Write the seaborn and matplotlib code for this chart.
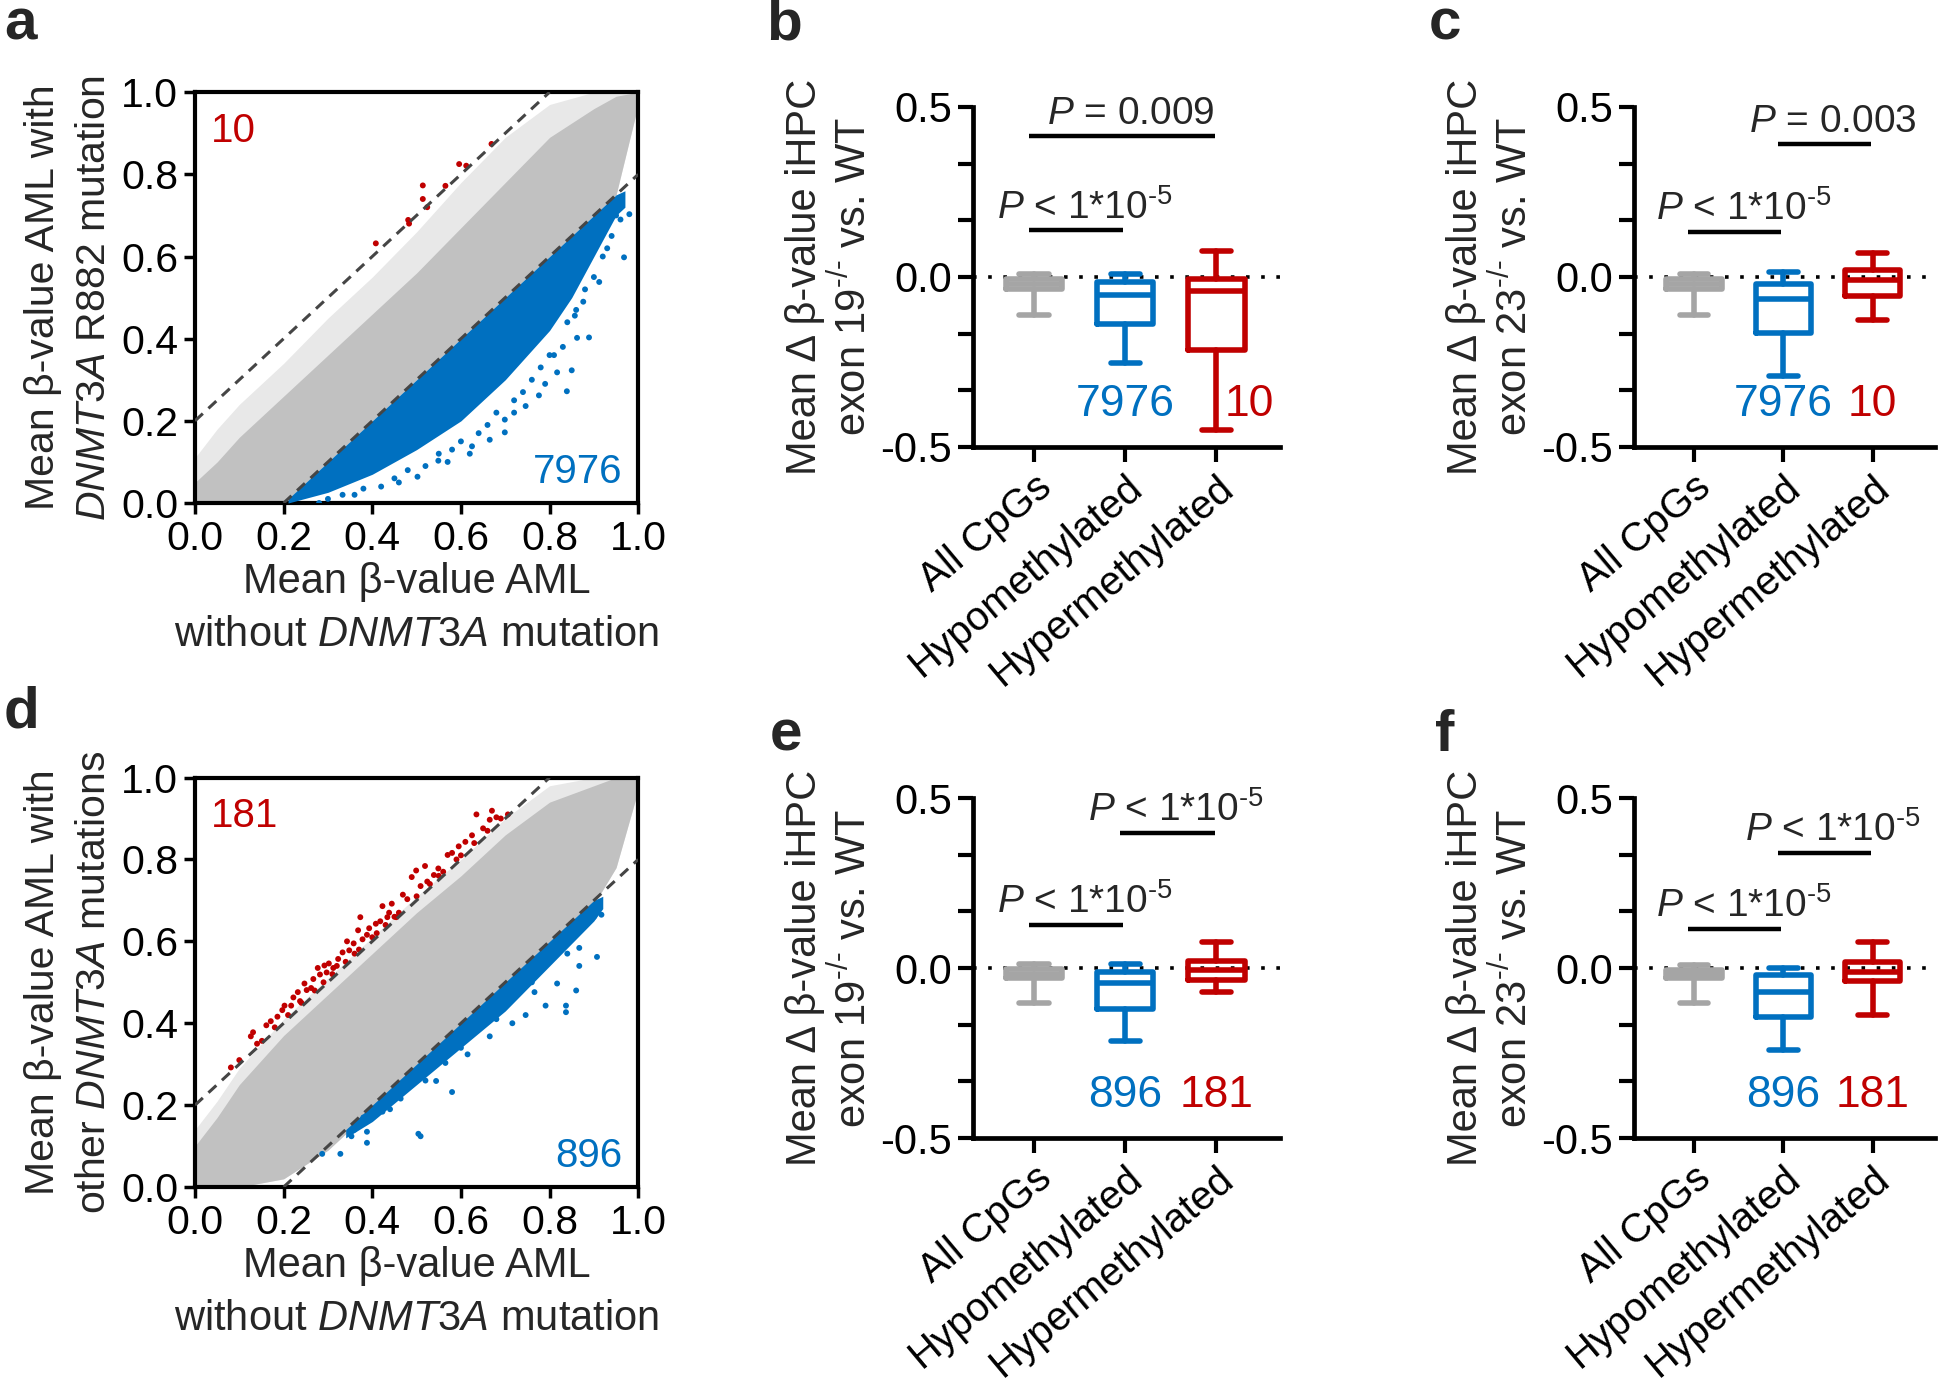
import matplotlib
matplotlib.use("Agg")
import matplotlib.pyplot as plt
import pandas as pd
import seaborn as sns


# ---- scatter panels (a, d): envelopes of the dense CpG cloud ----
CUTOFF = 0.2
cloud_x = [0.0, 0.05, 0.1, 0.2, 0.3, 0.4, 0.5, 0.6, 0.7, 0.8, 0.9, 0.95, 1.0]

a_gray_low = [0.0, 0.0, 0.0, 0.0, 0.10, 0.20, 0.30, 0.40, 0.50, 0.60, 0.70, 0.75, 0.97]
a_gray_core = [0.05, 0.10, 0.16, 0.26, 0.36, 0.46, 0.56, 0.67, 0.78, 0.89, 0.96, 0.99, 1.0]
a_gray_sparse = [0.11, 0.18, 0.24, 0.34, 0.45, 0.55, 0.66, 0.78, 0.89, 0.97, 1.0, 1.0, 1.0]

d_gray_low = [0.0, 0.0, 0.0, 0.02, 0.09, 0.19, 0.29, 0.39, 0.49, 0.59, 0.69, 0.78, 0.97]
d_gray_core = [0.10, 0.17, 0.25, 0.37, 0.47, 0.57, 0.67, 0.76, 0.86, 0.94, 0.98, 1.0, 1.0]
d_gray_sparse = [0.14, 0.21, 0.29, 0.41, 0.51, 0.61, 0.71, 0.80, 0.90, 0.98, 1.0, 1.0, 1.0]

# dense hypomethylated band (blue)
a_blue_x = [0.21, 0.3, 0.4, 0.5, 0.6, 0.7, 0.8, 0.85, 0.9, 0.95, 0.97]
a_blue_up = [0.01, 0.10, 0.20, 0.30, 0.40, 0.50, 0.60, 0.65, 0.70, 0.75, 0.76]
a_blue_low = [0.0, 0.026, 0.07, 0.13, 0.20, 0.30, 0.42, 0.50, 0.60, 0.70, 0.72]

d_blue_x = [0.34, 0.4, 0.5, 0.6, 0.7, 0.8, 0.9, 0.92]
d_blue_up = [0.14, 0.20, 0.30, 0.40, 0.50, 0.60, 0.70, 0.71]
d_blue_low = [0.12, 0.16, 0.25, 0.34, 0.43, 0.54, 0.65, 0.68]

# individual points outside the dense band
a_blue_px = [0.699, 0.699, 0.839, 0.862, 0.889, 0.968, 0.980, 0.502, 0.817, 0.850,
             0.776, 0.876, 0.912, 0.857, 0.549, 0.625, 0.333, 0.746, 0.665, 0.45,
             0.58, 0.72, 0.80, 0.93, 0.95, 0.28, 0.30, 0.36, 0.38, 0.42,
             0.46, 0.48, 0.52, 0.55, 0.57, 0.60, 0.62, 0.64, 0.66, 0.68,
             0.72, 0.74, 0.76, 0.78, 0.79, 0.81, 0.83, 0.84, 0.86, 0.88,
             0.90, 0.92, 0.94, 0.96]
a_blue_py = [0.203, 0.172, 0.272, 0.402, 0.403, 0.598, 0.703, 0.064, 0.318, 0.323,
             0.262, 0.490, 0.538, 0.456, 0.103, 0.138, 0.020, 0.236, 0.154, 0.06,
             0.13, 0.25, 0.36, 0.62, 0.70, 0.0, 0.01, 0.02, 0.035, 0.04,
             0.05, 0.08, 0.09, 0.12, 0.10, 0.15, 0.12, 0.17, 0.19, 0.22,
             0.22, 0.27, 0.30, 0.33, 0.29, 0.36, 0.38, 0.44, 0.47, 0.52,
             0.55, 0.60, 0.65, 0.69]

a_red_x = [0.408, 0.481, 0.483, 0.514, 0.524, 0.514, 0.565, 0.596, 0.612, 0.669]
a_red_y = [0.632, 0.689, 0.680, 0.740, 0.720, 0.773, 0.772, 0.825, 0.821, 0.874]

d_blue_px = [0.287, 0.328, 0.353, 0.388, 0.388, 0.504, 0.509, 0.580, 0.746, 0.791,
             0.837, 0.860, 0.837, 0.907, 0.917, 0.716, 0.665, 0.615, 0.544, 0.464,
             0.423, 0.867, 0.817, 0.766, 0.685, 0.565, 0.766, 0.867, 0.36, 0.45,
             0.38, 0.42, 0.46, 0.50, 0.54, 0.58, 0.62, 0.66, 0.70, 0.74,
             0.78, 0.82, 0.86, 0.90, 0.44, 0.52, 0.60, 0.68, 0.76, 0.84]
d_blue_py = [0.081, 0.081, 0.124, 0.108, 0.135, 0.130, 0.124, 0.232, 0.420, 0.443,
             0.443, 0.480, 0.427, 0.562, 0.665, 0.400, 0.368, 0.324, 0.259, 0.216,
             0.184, 0.540, 0.497, 0.476, 0.432, 0.303, 0.530, 0.584, 0.14, 0.22,
             0.17, 0.20, 0.24, 0.27, 0.31, 0.35, 0.39, 0.43, 0.46, 0.51,
             0.55, 0.58, 0.63, 0.66, 0.19, 0.26, 0.34, 0.41, 0.50, 0.57]

d_red_x = [0.081, 0.126, 0.131, 0.151, 0.161, 0.171, 0.186, 0.197, 0.202, 0.217,
           0.222, 0.232, 0.237, 0.247, 0.252, 0.262, 0.267, 0.277, 0.282, 0.292,
           0.297, 0.302, 0.312, 0.323, 0.333, 0.343, 0.348, 0.358, 0.368, 0.373,
           0.378, 0.388, 0.393, 0.408, 0.418, 0.423, 0.434, 0.438, 0.444, 0.454,
           0.469, 0.479, 0.489, 0.499, 0.509, 0.519, 0.524, 0.539, 0.549, 0.570,
           0.580, 0.595, 0.610, 0.625, 0.635, 0.650, 0.665, 0.670, 0.680, 0.706,
           0.10, 0.14, 0.18, 0.21, 0.24, 0.27, 0.31, 0.34, 0.37, 0.40,
           0.43, 0.46, 0.50, 0.53, 0.56, 0.60, 0.63, 0.66, 0.69, 0.29,
           0.32, 0.36, 0.41, 0.45, 0.55, 0.59]
d_red_y = [0.292, 0.368, 0.378, 0.357, 0.395, 0.405, 0.416, 0.432, 0.443, 0.443,
           0.463, 0.476, 0.454, 0.497, 0.481, 0.486, 0.508, 0.535, 0.519, 0.541,
           0.524, 0.546, 0.535, 0.557, 0.573, 0.600, 0.578, 0.595, 0.627, 0.659,
           0.605, 0.616, 0.632, 0.643, 0.649, 0.686, 0.659, 0.670, 0.692, 0.659,
           0.714, 0.703, 0.757, 0.773, 0.735, 0.784, 0.746, 0.762, 0.778, 0.811,
           0.816, 0.832, 0.843, 0.859, 0.910, 0.876, 0.897, 0.919, 0.903, 0.910,
           0.31, 0.35, 0.39, 0.42, 0.45, 0.48, 0.52, 0.55, 0.58, 0.61,
           0.64, 0.67, 0.71, 0.74, 0.77, 0.81, 0.84, 0.87, 0.90, 0.50,
           0.54, 0.57, 0.62, 0.66, 0.76, 0.80]

# ---- box panels (b, c, e, f): summary statistics ----
groups = ["All CpGs", "Hypomethylated", "Hypermethylated"]

b_whishi = [0.010, 0.010, 0.076]
b_q3 = [-0.005, -0.015, -0.005]
b_med = [-0.022, -0.052, -0.042]
b_q1 = [-0.036, -0.139, -0.216]
b_whislo = [-0.113, -0.252, -0.451]

c_whishi = [0.010, 0.015, 0.069]
c_q3 = [-0.005, -0.020, 0.020]
c_med = [-0.021, -0.066, -0.010]
c_q1 = [-0.036, -0.164, -0.056]
c_whislo = [-0.113, -0.290, -0.128]

e_whishi = [0.012, 0.012, 0.078]
e_q3 = [-0.003, -0.010, 0.020]
e_med = [-0.016, -0.045, -0.005]
e_q1 = [-0.030, -0.119, -0.035]
e_whislo = [-0.104, -0.214, -0.069]

f_whishi = [0.010, 0.000, 0.076]
f_q3 = [-0.005, -0.020, 0.019]
f_med = [-0.016, -0.069, -0.010]
f_q1 = [-0.030, -0.145, -0.037]
f_whislo = [-0.104, -0.241, -0.139]

r882_counts = ["7976", "10"]
other_counts = ["896", "181"]

P_SMALL = "$P$ < 1*10$^{\\text{-5}}$"

GRAY_DENSE = "#c1c1c1"
GRAY_LIGHT = "#e8e8e8"
BLUE = "#0070c0"
RED = "#c00000"
BOX_GRAY = "#a5a5a5"


sns.set_theme(style="ticks")
plt.rcParams["font.family"] = ["Liberation Sans", "DejaVu Sans"]
plt.rcParams["mathtext.fontset"] = "custom"
plt.rcParams["mathtext.rm"] = "Liberation Sans"
plt.rcParams["mathtext.it"] = "Liberation Sans:italic"
plt.rcParams["mathtext.bf"] = "Liberation Sans:bold"
plt.rcParams["axes.edgecolor"] = "black"


def draw_scatter(ax, low, core, sparse, bx, bup, blow, bpx, bpy, rx, ry,
                 n_red, n_blue, ylabel):
    ax.fill_between(cloud_x, low, sparse, color=GRAY_LIGHT, lw=0, zorder=1)
    ax.fill_between(cloud_x, low, core, color=GRAY_DENSE, lw=0, zorder=2)
    ax.fill_between(bx, blow, bup, color=BLUE, lw=0, zorder=3)

    pts = pd.DataFrame({"x": bpx + rx, "y": bpy + ry,
                        "grp": ["hypo"] * len(bpx) + ["hyper"] * len(rx)})
    sns.scatterplot(data=pts, x="x", y="y", hue="grp",
                    palette={"hypo": BLUE, "hyper": RED},
                    s=18, linewidth=0, legend=False, ax=ax, zorder=4)

    ax.axline((0, CUTOFF), slope=1, color="#454545", lw=2.2,
              ls=(0, (3.5, 2.5)), zorder=5)
    ax.axline((CUTOFF, 0), slope=1, color="#454545", lw=2.2,
              ls=(0, (3.5, 2.5)), zorder=5)

    ax.text(0.035, 0.905, n_red, color=RED, fontsize=29, va="center",
            ha="left", transform=ax.transAxes)
    ax.text(0.965, 0.075, n_blue, color=BLUE, fontsize=29, va="center",
            ha="right", transform=ax.transAxes)

    ax.set_xlim(0, 1)
    ax.set_ylim(0, 1)
    ticks = [0, 0.2, 0.4, 0.6, 0.8, 1.0]
    tick_txt = ["0.0", "0.2", "0.4", "0.6", "0.8", "1.0"]
    ax.set_xticks(ticks)
    ax.set_yticks(ticks)
    ax.set_xticklabels(tick_txt)
    ax.set_yticklabels(tick_txt)
    ax.tick_params(labelsize=29.5, direction="out", length=8, width=2.5,
                   pad=4, colors="black")
    for sp in ax.spines.values():
        sp.set_linewidth(3)
        sp.set_visible(True)
    ax.set_xlabel("Mean β-value AML\nwithout $\\mathit{DNMT3A}$ mutation",
                  fontsize=30, labelpad=3, linespacing=1.42)
    ax.set_ylabel(ylabel, fontsize=29.5, labelpad=6, linespacing=1.42)


def draw_box(ax, whislo, q1, med, q3, whishi, brackets, counts, count_x,
             exon):
    ax.axhline(0, color="black", lw=2.6, ls=(0, (1, 3.2)), zorder=1)
    colors = [BOX_GRAY, BLUE, RED]
    for i in range(len(groups)):
        st = {"whislo": whislo[i], "q1": q1[i], "med": med[i],
              "q3": q3[i], "whishi": whishi[i], "fliers": []}
        lp = dict(color=colors[i], linewidth=4.0)
        ax.bxp([st], positions=[i], widths=0.62, showfliers=False,
               boxprops=lp, whiskerprops=lp, capprops=lp, medianprops=lp,
               capwidths=0.32, manage_ticks=False, zorder=3)

    for (i, j, h, label) in brackets:
        ax.plot([i - 0.06, j - 0.02], [h, h], color="black", lw=3.2,
                solid_capstyle="butt", clip_on=False)
        ax.text((i + j) / 2 + 0.06, h + 0.035, label, fontsize=28,
                ha="center", va="baseline", clip_on=False)

    ax.text(1.0, -0.375, counts[0], color=BLUE, fontsize=32,
            ha="center", va="center")
    ax.text(count_x, -0.375, counts[1], color=RED, fontsize=32,
            ha="center", va="center")

    ax.set_xlim(-0.67, 2.70)
    ax.set_ylim(-0.5, 0.5)
    ax.set_yticks([-0.5, -1 / 3, -1 / 6, 0, 1 / 6, 1 / 3, 0.5])
    ax.set_yticklabels(["-0.5", "", "", "0.0", "", "", "0.5"])
    ax.set_xticks(range(len(groups)))
    ax.set_xticklabels(groups, rotation=40, ha="right", va="top",
                       rotation_mode="anchor")
    ax.tick_params(labelsize=30, direction="out", length=11, width=3,
                   pad=4, colors="black")
    ax.tick_params(axis="x", labelsize=29, pad=4)
    sns.despine(ax=ax)
    ax.spines["left"].set_linewidth(3.4)
    ax.spines["bottom"].set_linewidth(3.4)
    ax.set_ylabel("Mean Δ β-value iHPC\nexon " + exon + "$^{\\text{-/-}}$ vs. WT",
                  fontsize=30, labelpad=4, linespacing=1.22)


fig = plt.figure(figsize=(19.44, 13.88), dpi=100)
ax_a = fig.add_axes([0.1003, 0.6376, 0.228, 0.296])
ax_d = fig.add_axes([0.1003, 0.1448, 0.228, 0.295])
ax_b = fig.add_axes([0.5005, 0.678, 0.158, 0.245])
ax_c = fig.add_axes([0.8405, 0.678, 0.155, 0.245])
ax_e = fig.add_axes([0.5005, 0.180, 0.158, 0.245])
ax_f = fig.add_axes([0.8405, 0.180, 0.155, 0.245])

draw_scatter(ax_a, a_gray_low, a_gray_core, a_gray_sparse,
             a_blue_x, a_blue_up, a_blue_low, a_blue_px, a_blue_py,
             a_red_x, a_red_y, r882_counts[1], r882_counts[0],
             "Mean β-value AML with\n$\\mathit{DNMT3A}$ R882 mutation")
draw_scatter(ax_d, d_gray_low, d_gray_core, d_gray_sparse,
             d_blue_x, d_blue_up, d_blue_low, d_blue_px, d_blue_py,
             d_red_x, d_red_y, other_counts[1], other_counts[0],
             "Mean β-value AML with\nother $\\mathit{DNMT3A}$ mutations")

draw_box(ax_b, b_whislo, b_q1, b_med, b_q3, b_whishi,
         [(0, 1, 0.137, P_SMALL), (0, 2, 0.414, "$P$ = 0.009")],
         r882_counts, 2.36, "19")
draw_box(ax_c, c_whislo, c_q1, c_med, c_q3, c_whishi,
         [(0, 1, 0.133, P_SMALL), (1, 2, 0.390, "$P$ = 0.003")],
         r882_counts, 2.0, "23")
draw_box(ax_e, e_whislo, e_q1, e_med, e_q3, e_whishi,
         [(0, 1, 0.128, P_SMALL), (1, 2, 0.398, P_SMALL)],
         other_counts, 2.0, "19")
draw_box(ax_f, f_whislo, f_q1, f_med, f_q3, f_whishi,
         [(0, 1, 0.115, P_SMALL), (1, 2, 0.338, P_SMALL)],
         other_counts, 2.0, "23")

for letter, x, y in [("a", 0.002, 0.982), ("b", 0.394, 0.982),
                     ("c", 0.735, 0.982), ("d", 0.002, 0.487),
                     ("e", 0.396, 0.47), ("f", 0.738, 0.47)]:
    fig.text(x, y, letter, fontsize=42, fontweight="bold", va="center")

fig.savefig("out.png", dpi=100)
